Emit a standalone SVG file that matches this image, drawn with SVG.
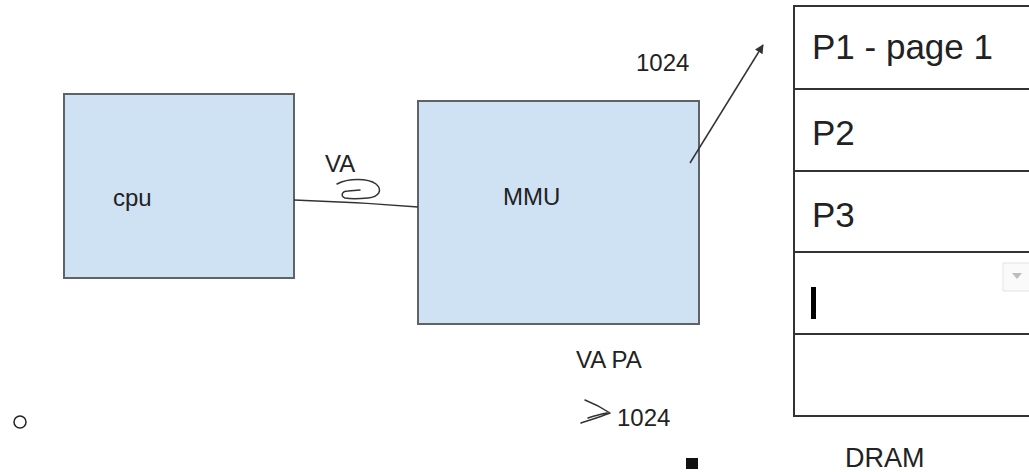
<svg xmlns="http://www.w3.org/2000/svg" width="1029" height="472" viewBox="0 0 1029 472">
  <defs>
    <style>
      .box { fill: #cfe2f3; stroke: #5f6368; stroke-width: 2; }
      .lbl { font-family: "Liberation Sans", Arial, sans-serif; fill: #222; }
      .cell { fill: #fff; stroke: #333; stroke-width: 2; }
      .ink { fill: none; stroke: #333; stroke-width: 1.5; stroke-linecap: round; stroke-linejoin: round; }
    </style>
    <marker id="head" viewBox="0 0 10 10" refX="9" refY="5" markerWidth="6" markerHeight="6" orient="auto">
      <path d="M0,0 L10,5 L0,10 z" fill="#333"/>
    </marker>
  </defs>
  <rect width="1029" height="472" fill="#fff"/>

  <!-- CPU -->
  <g id="cpu">
    <rect class="box" x="64" y="94" width="230" height="184"/>
    <text class="lbl" x="113" y="206" font-size="24">cpu</text>
  </g>

  <!-- MMU -->
  <g id="mmu">
    <rect class="box" x="418" y="101" width="281" height="223"/>
    <text class="lbl" x="503" y="205" font-size="24">MMU</text>
  </g>

  <!-- DRAM page table -->
  <g id="dram">
    <rect class="cell" x="794" y="6" width="250" height="83"/>
    <rect class="cell" x="794" y="89" width="250" height="82"/>
    <rect class="cell" x="794" y="171" width="250" height="81"/>
    <rect class="cell" x="794" y="252" width="250" height="82"/>
    <rect class="cell" x="794" y="334" width="250" height="82"/>
    <text class="lbl" x="812" y="59" font-size="35">P1 - page 1</text>
    <text class="lbl" x="812" y="145" font-size="35">P2</text>
    <text class="lbl" x="812" y="227" font-size="35">P3</text>
    <rect x="811" y="287" width="5" height="32" fill="#000"/>
    <rect x="1003" y="263" width="30" height="28" fill="#fafafa" stroke="#e3e3e3" stroke-width="1"/>
    <path d="M1012,273 L1022,273 L1017,279 z" fill="#bdbdbd"/>
    <text class="lbl" x="845" y="467" font-size="27">DRAM</text>
  </g>

  <!-- Annotations -->
  <g id="notes">
    <text class="lbl" x="325" y="172" font-size="24">VA</text>
    <text class="lbl" x="636" y="71" font-size="24">1024</text>
    <text class="lbl" x="576" y="368" font-size="24">VA PA</text>
    <text class="lbl" x="617" y="426" font-size="24">1024</text>
    <path class="ink" d="M337,184 C348,178 368,178 376,184 C383,190 379,197 368,198 C358,199 350,199 345,198 C340,196 342,191 348,191 L360,190"/>
    <path class="ink" d="M585,400 C595,404 604,409 610,413 C600,417 590,420 581,423 M588,418 C594,416 601,414 607,413"/>
    <circle cx="20" cy="422" r="6" fill="none" stroke="#222" stroke-width="1.5"/>
    <rect x="686" y="458" width="12" height="11" fill="#111"/>
  </g>

  <!-- Connectors -->
  <g id="connectors">
    <path d="M294,200 Q356,202 418,207" fill="none" stroke="#333" stroke-width="1.5"/>
    <line x1="690" y1="163" x2="763" y2="45" stroke="#333" stroke-width="1.5" marker-end="url(#head)"/>
  </g>
</svg>
